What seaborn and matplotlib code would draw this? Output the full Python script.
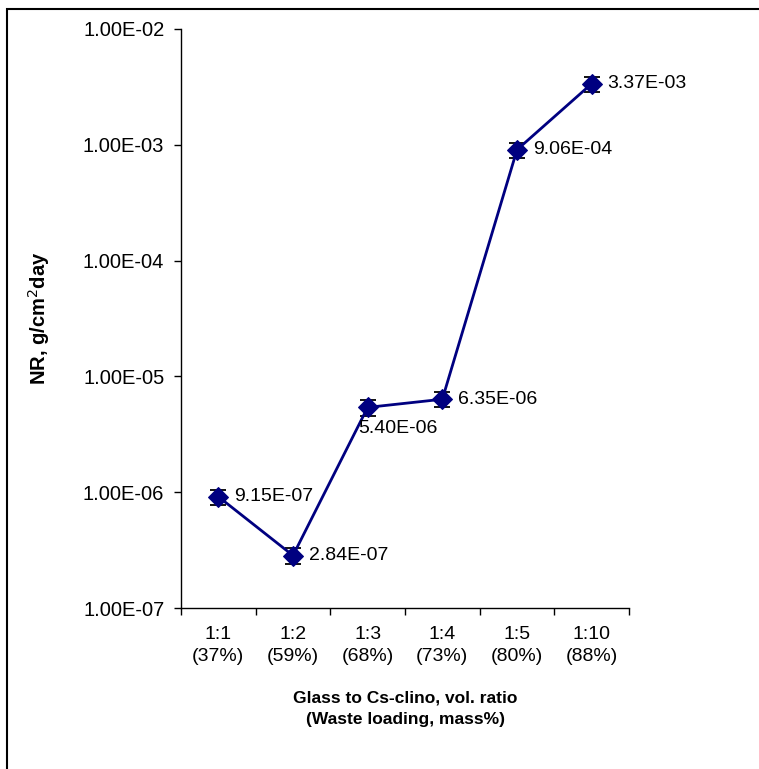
import numpy as np
import matplotlib
matplotlib.use("Agg")
import matplotlib.pyplot as plt
import seaborn as sns
from matplotlib.ticker import FuncFormatter, FixedLocator, NullLocator
from matplotlib.patches import Rectangle

sns.set_style("ticks")
plt.rcParams['font.family'] = ['Liberation Sans', 'DejaVu Sans']
plt.rcParams['text.color'] = 'black'
plt.rcParams['xtick.color'] = 'black'
plt.rcParams['ytick.color'] = 'black'
plt.rcParams['axes.labelcolor'] = 'black'

# Data
ratios = ["1:1", "1:2", "1:3", "1:4", "1:5", "1:10"]
loading = ["37%", "59%", "68%", "73%", "80%", "88%"]
nr = [9.15e-07, 2.84e-07, 5.40e-06, 6.35e-06, 9.06e-04, 3.37e-03]
nr_err = [v * 0.15 for v in nr]
value_labels = ["9.15E-07", "2.84E-07", "5.40E-06", "6.35E-06", "9.06E-04", "3.37E-03"]

pos = np.arange(len(ratios))

fig = plt.figure(figsize=(7.59, 7.69), dpi=100)
ax = fig.add_axes([181/759, 1 - 608/769, (629 - 181)/759, (608 - 29)/769])

# border around the chart area (runs off the right and bottom edges)
fig.patches.append(Rectangle((7/759, -0.1), 1.2, 1.1 - 9/769, transform=fig.transFigure,
                             fill=False, edgecolor="black", linewidth=1.5))

ax.errorbar(pos, nr, yerr=nr_err, fmt="none", ecolor="black", elinewidth=1.3,
            capsize=6, capthick=1.3, zorder=2)
sns.lineplot(x=pos, y=nr, ax=ax, color="#000080", linewidth=2, marker="D",
             markersize=10, markeredgecolor="#000080", zorder=3)

ax.set_yscale("log")
ax.set_ylim(1e-7, 1e-2)
ax.set_xlim(-0.5, len(ratios) - 0.5)

# data labels
for i, (v, lab) in enumerate(zip(nr, value_labels)):
    if lab == "5.40E-06":
        ax.annotate(lab, (i, v), xytext=(-7, -15), textcoords="offset points",
                    fontsize=14, va="center", ha="left")
    else:
        ax.annotate(lab, (i, v), xytext=(11.5, 0), textcoords="offset points",
                    fontsize=14, va="center", ha="left")

ax.yaxis.set_major_locator(FixedLocator([1e-7, 1e-6, 1e-5, 1e-4, 1e-3, 1e-2]))
ax.yaxis.set_minor_locator(NullLocator())
ax.yaxis.set_major_formatter(FuncFormatter(lambda v, p: f"{v:.2E}"))

ax.set_xticks(pos)
ax.set_xticklabels([f"{r}\n({l})" for r, l in zip(ratios, loading)])
for t in ax.get_xticklabels():
    t.set_linespacing(1.4)
ax.set_xticks(np.arange(-0.5, len(ratios)), minor=True)
ax.tick_params(axis="x", which="major", length=0, pad=13, labelsize=14)
ax.tick_params(axis="x", which="minor", length=5, width=1, color="black")
ax.tick_params(axis="y", which="major", length=5, width=1, pad=7, labelsize=14.5, color="black")

for s in ["top", "right"]:
    ax.spines[s].set_visible(False)
for s in ["left", "bottom"]:
    ax.spines[s].set_color("black")
    ax.spines[s].set_linewidth(1)

ax.set_xlabel("Glass to Cs-clino, vol. ratio\n(Waste loading, mass%)",
              fontsize=12.5, fontweight="bold", labelpad=18, linespacing=1.55)
ax.set_ylabel("NR, g/cm$^2$day", fontsize=14.5, fontweight="bold", labelpad=22)

fig.savefig("out.png", dpi=100)
